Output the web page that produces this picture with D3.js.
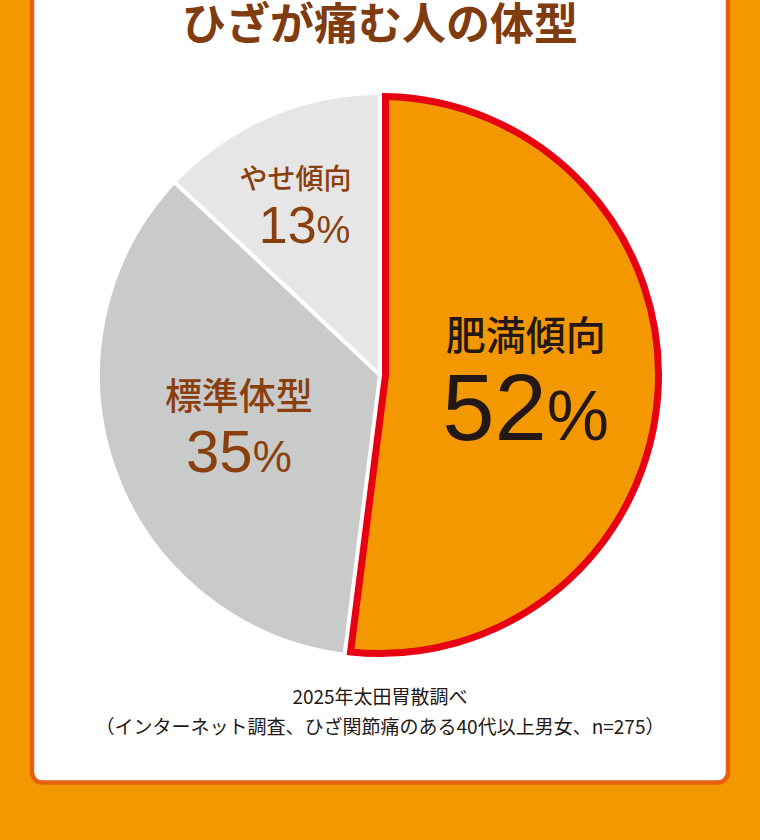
<!DOCTYPE html>
<html>
<head>
<meta charset="utf-8">
<script src="https://cdn.jsdelivr.net/npm/d3@7"></script>
<style>
  body { margin: 0; background: #F39800; }
  svg { display: block; }
</style>
</head>
<body>
<div id="chart"></div>
<script>
// data
const title = "ひざが痛む人の体型";
const categories = ["肥満傾向", "標準体型", "やせ傾向"];
const values = [52, 35, 13];
const notes = ["2025年太田胃散調べ", "（インターネット調査、ひざ関節痛のある40代以上男女、n=275）"];

// look
const fills = ["#F39800", "#C9CACA", "#E6E6E6"];
const textColors = ["#231815", "#8A3F0E", "#8A3F0E"];
const labelRadius = [146, 150, 190];
const nameSize = [40, 37, 28];
const valueSize = [94, 60, 52];
const pctSize = [70, 44, 38];
const nameDx = [0, 0, -9];
const nameDy = [-34, -16, -12];
const valueDy = [56, 46, 42];

const W = 760, H = 840;
const cx = 380, cy = 375, r = 282;

const svg = d3.select("#chart").append("svg")
    .attr("width", W)
    .attr("height", H);

svg.append("rect")
    .attr("width", W).attr("height", H)
    .attr("fill", "#F39800");

// white card
svg.append("rect")
    .attr("x", 32).attr("y", -30)
    .attr("width", 696).attr("height", 812.5)
    .attr("rx", 10)
    .attr("fill", "#fff")
    .attr("stroke", "#E8600E")
    .attr("stroke-width", 4.5);

svg.append("text")
    .attr("x", cx).attr("y", 40)
    .attr("text-anchor", "middle")
    .style("font-family", "'Noto Sans CJK JP', sans-serif")
    .style("font-weight", 700)
    .style("font-size", "44px")
    .attr("fill", "#803C0F")
    .text(title);

const pie = d3.pie().sort(null).value(d => d);
const arcs = pie(values);

const g = svg.append("g")
    .attr("transform", "translate(" + cx + "," + cy + ")");

const arc = d3.arc().innerRadius(0).outerRadius(r);

// grey slices with white gaps
g.selectAll("path.slice")
    .data(arcs.slice(1))
    .enter()
    .append("path")
    .attr("class", "slice")
    .attr("d", arc)
    .attr("fill", (d, i) => fills[i + 1])
    .attr("stroke", "#fff")
    .attr("stroke-width", 4);

// highlighted slice, red outline drawn inside
const hiArc = d3.arc()
    .innerRadius(5.6)
    .outerRadius(r - 3.5)
    .padRadius(100)
    .padAngle(2 * Math.asin(5.5 / 100));

g.append("path")
    .datum(arcs[0])
    .attr("d", hiArc)
    .attr("fill", fills[0])
    .attr("stroke", "#E60012")
    .attr("stroke-width", 7)
    .attr("stroke-linejoin", "miter");

// labels
arcs.forEach((d, i) => {
    const la = d3.arc().innerRadius(labelRadius[i]).outerRadius(labelRadius[i]);
    const [x, y] = la.centroid(d);

    g.append("text")
        .attr("x", x + nameDx[i]).attr("y", y + nameDy[i])
        .attr("text-anchor", "middle")
        .style("font-family", "'Noto Sans CJK JP', sans-serif")
        .style("font-weight", 500)
        .style("font-size", nameSize[i] + "px")
        .attr("fill", textColors[i])
        .text(categories[i]);

    const t = g.append("text")
        .attr("x", x).attr("y", y + valueDy[i])
        .attr("text-anchor", "middle")
        .style("font-family", "'Liberation Sans', Arial, sans-serif")
        .attr("fill", textColors[i]);
    t.append("tspan")
        .style("font-size", valueSize[i] + "px")
        .text(values[i]);
    t.append("tspan")
        .style("font-size", pctSize[i] + "px")
        .text("%");
});

// source notes
svg.selectAll("text.note")
    .data(notes)
    .enter()
    .append("text")
    .attr("class", "note")
    .attr("x", cx)
    .attr("y", (d, i) => 704 + i * 30)
    .attr("text-anchor", "middle")
    .style("font-family", "'Noto Sans CJK JP', sans-serif")
    .style("font-size", "19px")
    .attr("fill", "#231815")
    .text(d => d);
</script>
</body>
</html>
